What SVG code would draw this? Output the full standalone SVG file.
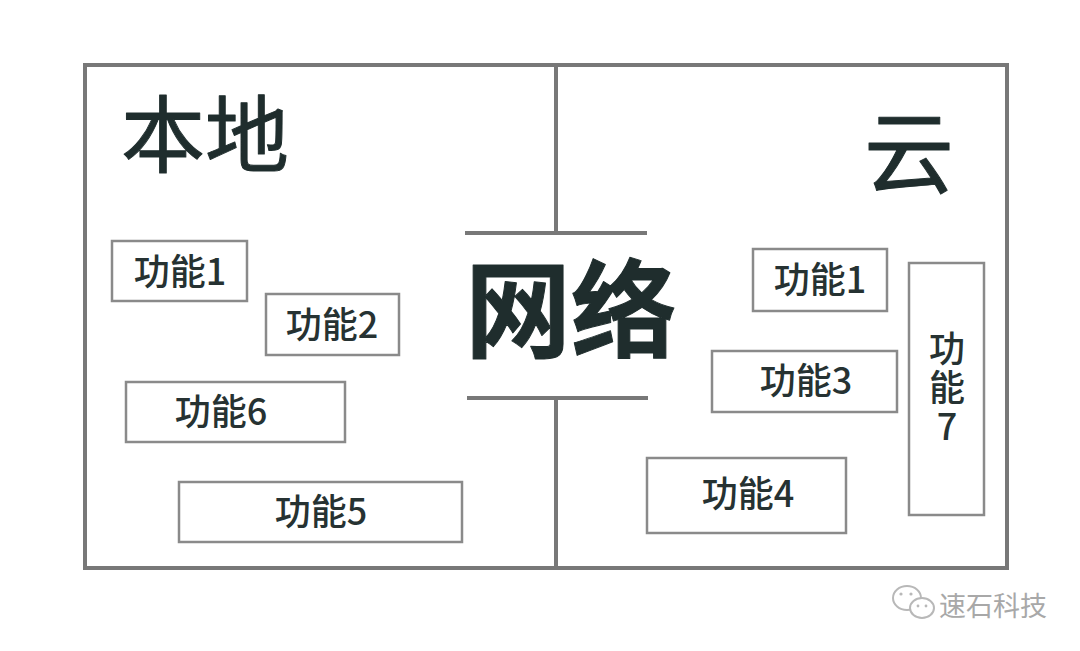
<svg xmlns="http://www.w3.org/2000/svg" width="1080" height="651" viewBox="0 0 1080 651">
<style>
.frame{fill:none;stroke:#787878;stroke-width:4}
.line{stroke:#787878;stroke-width:4}
.box{fill:#fff;stroke:#8a8a8a;stroke-width:2.5}
.lbl{font-family:"Noto Sans CJK SC","Noto Sans",sans-serif;font-size:36px;font-weight:500;fill:#263232;text-anchor:middle}
.v{writing-mode:vertical-rl;text-orientation:upright;letter-spacing:3px}
.title{font-family:"Noto Sans CJK SC",sans-serif;fill:#1f2d2d;stroke:#1f2d2d;stroke-linejoin:round;stroke-linecap:round}
.wm{font-family:"Noto Sans CJK SC",sans-serif;font-size:27px;fill:#a8a8a8}
</style>
<rect width="1080" height="651" fill="#ffffff"/>
<g id="frame">
<rect class="frame" x="85" y="65" width="922" height="503"/>
</g>
<g id="connectors">
<line class="line" x1="556" y1="65" x2="556" y2="233"/>
<line class="line" x1="465" y1="233" x2="647" y2="233"/>
<line class="line" x1="467" y1="398" x2="648" y2="398"/>
<line class="line" x1="556" y1="398" x2="556" y2="568"/>
</g>
<g id="title-local"><text class="title" x="121" y="166" font-size="84" stroke-width="1">本地</text></g>
<g id="title-cloud"><text class="title" x="864" y="186" font-size="90" stroke-width="1">云</text></g>
<g id="network"><text class="title" x="571" y="349" font-size="106" font-weight="bold" text-anchor="middle" stroke-width="1">网络</text></g>
<g id="local-f1"><rect class="box" x="112" y="241" width="135" height="60"/><text class="lbl" x="180" y="285">功能1</text></g>
<g id="local-f2"><rect class="box" x="266" y="294" width="133" height="61"/><text class="lbl" x="332" y="338">功能2</text></g>
<g id="local-f6"><rect class="box" x="126" y="382" width="219" height="60"/><text class="lbl" x="221" y="425">功能6</text></g>
<g id="local-f5"><rect class="box" x="179" y="482" width="283" height="60"/><text class="lbl" x="321" y="525">功能5</text></g>
<g id="cloud-f1"><rect class="box" x="753" y="249" width="134" height="62"/><text class="lbl" x="820" y="293">功能1</text></g>
<g id="cloud-f3"><rect class="box" x="712" y="351" width="185" height="61"/><text class="lbl" x="806" y="394">功能3</text></g>
<g id="cloud-f4"><rect class="box" x="647" y="458" width="199" height="75"/><text class="lbl" x="748" y="507">功能4</text></g>
<g id="cloud-f7"><rect class="box" x="909" y="263" width="75" height="252"/><text class="lbl v" x="947" y="389">功能7</text></g>
<g id="watermark">
<g fill="none" stroke="#b8b8b8" stroke-width="2">
<ellipse cx="907" cy="598" rx="14" ry="12"/>
<ellipse cx="922" cy="608" rx="12" ry="10" fill="#fff"/>
</g>
<g fill="#b8b8b8"><circle cx="901" cy="594" r="1.6"/><circle cx="911" cy="594" r="1.6"/><circle cx="918" cy="606" r="1.4"/><circle cx="926" cy="606" r="1.4"/></g>
<text class="wm" x="939" y="616">速石科技</text>
</g>
</svg>
